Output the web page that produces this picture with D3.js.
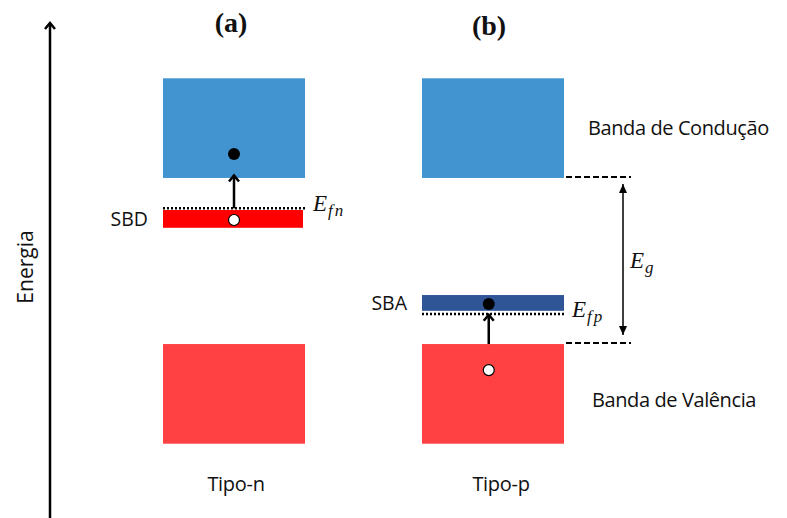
<!DOCTYPE html>
<html>
<head>
<meta charset="utf-8">
<script src="https://cdn.jsdelivr.net/npm/d3@7"></script>
<style>
  body { margin: 0; background: #fff; }
  text { font-family: "Open Sans", sans-serif; fill: #111; }
  .math { font-family: "Liberation Serif", serif; font-style: italic; }
  .title { font-family: "Liberation Serif", serif; font-weight: bold; }
</style>
</head>
<body>
<div id="chart"></div>
<script>
// band diagram data (energies in arbitrary units, valence band top = 0, gap = 1)
var panels = ["a", "b"];
var panelTitles = ["(a)", "(b)"];
var dopingTypes = ["Tipo-n", "Tipo-p"];
var valenceBand = [-0.6, 0];
var conductionBand = [1.0, 1.6];
var impurityLabels = ["SBD", "SBA"];
var impurityLow = [0.70, 0.20];
var impurityHigh = [0.807, 0.295];
var fermiLevels = [0.817, 0.181];
var fermiSubs = ["fn", "fp"];
var electronEnergy = [1.144, 0.241];
var holeEnergy = [0.747, -0.157];
var bandLabels = ["Banda de Condução", "Banda de Valência"];

var width = 787, height = 518;

var svg = d3.select("#chart").append("svg")
  .attr("width", width)
  .attr("height", height);

var y = d3.scaleLinear().domain([-0.6, 1.6]).range([443.7, 78.3]);
var x = d3.scaleBand().domain(panels).range([163, 564]).paddingInner(117 / 259).paddingOuter(0);
var bw = x.bandwidth();
var markX = [0.5, 0.47];   // where the carriers sit inside each band

var blue = "#4194cf", red = "#ff4144", redSBD = "#ff0000", darkBlue = "#2f5597";

// markers
var defs = svg.append("defs");
defs.append("marker")
    .attr("id", "open")
    .attr("markerUnits", "userSpaceOnUse")
    .attr("viewBox", "-10 -7 12 14")
    .attr("markerWidth", 12).attr("markerHeight", 14)
    .attr("refX", 0).attr("refY", 0)
    .attr("orient", "auto")
  .append("path")
    .attr("d", "M-6,-5 L0,0 L-6,5")
    .attr("fill", "none").attr("stroke", "#000").attr("stroke-width", 2.5);
defs.append("marker")
    .attr("id", "tri")
    .attr("markerUnits", "userSpaceOnUse")
    .attr("viewBox", "-10 -6 12 12")
    .attr("markerWidth", 12).attr("markerHeight", 12)
    .attr("refX", 0).attr("refY", 0)
    .attr("orient", "auto-start-reverse")
  .append("path")
    .attr("d", "M-9,-4 L0,0 L-9,4 Z")
    .attr("fill", "#000");

// energy axis
svg.append("line")
    .attr("x1", 50).attr("x2", 50)
    .attr("y1", height).attr("y2", 23)
    .attr("stroke", "#000").attr("stroke-width", 2.5)
    .attr("marker-end", "url(#open)");
svg.append("text")
    .attr("transform", "translate(33,267) rotate(-90)")
    .attr("text-anchor", "middle")
    .attr("font-size", "21px")
    .text("Energia");

// conduction and valence bands
panels.forEach(function (p, i) {
  svg.append("rect")
      .attr("x", x(p)).attr("width", bw)
      .attr("y", y(conductionBand[1]))
      .attr("height", y(conductionBand[0]) - y(conductionBand[1]))
      .attr("fill", blue);
  svg.append("rect")
      .attr("x", x(p)).attr("width", bw)
      .attr("y", y(valenceBand[1]))
      .attr("height", y(valenceBand[0]) - y(valenceBand[1]))
      .attr("fill", red);

  // impurity band
  svg.append("rect")
      .attr("x", x(p)).attr("width", i === 0 ? bw - 2 : bw)
      .attr("y", y(impurityHigh[i]))
      .attr("height", y(impurityLow[i]) - y(impurityHigh[i]))
      .attr("fill", i === 0 ? redSBD : darkBlue);

  // fermi level
  svg.append("line")
      .attr("x1", x(p)).attr("x2", x(p) + bw)
      .attr("y1", y(fermiLevels[i])).attr("y2", y(fermiLevels[i]))
      .attr("stroke", "#000").attr("stroke-width", 2.5)
      .attr("stroke-dasharray", "2,2");

  var cx = x(p) + bw * markX[i];

  // excitation arrow
  var from = i === 0 ? fermiLevels[0] : valenceBand[1];
  var to = i === 0 ? conductionBand[0] + 0.015 : fermiLevels[1] - 0.005;
  svg.append("line")
      .attr("x1", cx).attr("x2", cx)
      .attr("y1", y(from)).attr("y2", y(to))
      .attr("stroke", "#000").attr("stroke-width", 2.5)
      .attr("marker-end", "url(#open)");

  svg.append("circle")
      .attr("cx", cx).attr("cy", y(electronEnergy[i])).attr("r", 6)
      .attr("fill", "#000");
  svg.append("circle")
      .attr("cx", cx).attr("cy", y(holeEnergy[i])).attr("r", 5.5)
      .attr("fill", "#fff").attr("stroke", "#000").attr("stroke-width", 1.2);

  // labels
  svg.append("text")
      .attr("class", "title")
      .attr("x", x(p) + bw / 2 - 3 - i * 1).attr("y", i === 0 ? 32 : 35)
      .attr("text-anchor", "middle")
      .attr("font-size", "28px")
      .text(panelTitles[i]);
  svg.append("text")
      .attr("x", x(p) + bw / 2 + (i === 0 ? 2 : 8)).attr("y", 491)
      .attr("text-anchor", "middle")
      .attr("font-size", "20px")
      .attr("letter-spacing", "-0.3px")
      .text(dopingTypes[i]);
  svg.append("text")
      .attr("x", x(p) - 15).attr("y", y((impurityLow[i] + impurityHigh[i]) / 2) + 7)
      .attr("text-anchor", "end")
      .attr("font-size", "19.5px")
      .text(impurityLabels[i]);

  var ef = svg.append("text")
      .attr("class", "math")
      .attr("x", x(p) + bw + 8).attr("y", y(fermiLevels[i]) + (i === 0 ? 3 : 3))
      .attr("font-size", "23px")
      .text("E");
  ef.append("tspan")
      .attr("font-size", "17px")
      .attr("letter-spacing", "2px")
      .attr("dx", 1)
      .attr("dy", 5)
      .text(fermiSubs[i]);
});

// band gap for panel (b)
var gx = x("b") + bw;
[conductionBand[0], valenceBand[1]].forEach(function (e) {
  svg.append("line")
      .attr("x1", gx + 2).attr("x2", gx + 67)
      .attr("y1", y(e) - 1).attr("y2", y(e) - 1)
      .attr("stroke", "#000").attr("stroke-width", 2)
      .attr("stroke-dasharray", "6,3");
});
svg.append("line")
    .attr("x1", gx + 59).attr("x2", gx + 59)
    .attr("y1", y(conductionBand[0]) + 6).attr("y2", y(valenceBand[1]) - 9)
    .attr("stroke", "#000").attr("stroke-width", 1.5)
    .attr("marker-start", "url(#tri)")
    .attr("marker-end", "url(#tri)");
var eg = svg.append("text")
    .attr("class", "math")
    .attr("x", gx + 66).attr("y", y((conductionBand[0] + valenceBand[1]) / 2) + 7)
    .attr("font-size", "23px")
    .text("E");
eg.append("tspan").attr("font-size", "17px").attr("dx", 1).attr("dy", 5).text("g");

// band names
svg.append("text")
    .attr("x", 588).attr("y", 135)
    .attr("font-size", "20px")
    .attr("letter-spacing", "-0.4px")
    .text(bandLabels[0]);
svg.append("text")
    .attr("x", 592).attr("y", 407)
    .attr("font-size", "20px")
    .attr("letter-spacing", "-0.4px")
    .text(bandLabels[1]);
</script>
</body>
</html>
